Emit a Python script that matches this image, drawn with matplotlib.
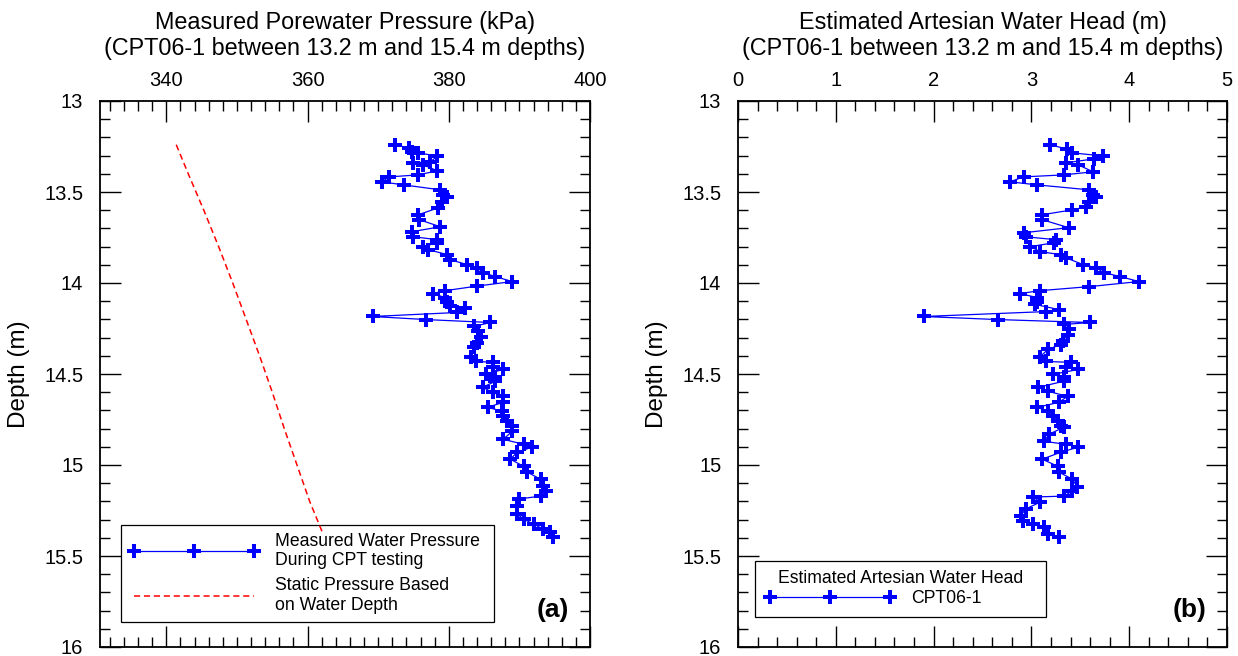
import numpy as np
import matplotlib
matplotlib.use("Agg")
import matplotlib.pyplot as plt
from matplotlib.ticker import MultipleLocator

plt.rcParams['font.family'] = ['Liberation Sans', 'DejaVu Sans']

# measured porewater pressure (kPa) vs depth (m), panel (a)
depth_a = [13.241, 13.258, 13.280, 13.285, 13.302, 13.334, 13.340, 13.351, 13.384, 13.406,
           13.417, 13.444, 13.461, 13.488, 13.515, 13.526, 13.554, 13.587, 13.625, 13.652,
           13.691, 13.718, 13.746, 13.762, 13.779, 13.800, 13.817, 13.844, 13.872, 13.899,
           13.916, 13.943, 13.965, 13.992, 14.017, 14.042, 14.058, 14.080, 14.107, 14.129,
           14.140, 14.162, 14.184, 14.201, 14.217, 14.239, 14.266, 14.294, 14.327, 14.354,
           14.404, 14.431, 14.436, 14.464, 14.475, 14.502, 14.519, 14.540, 14.573, 14.601,
           14.623, 14.656, 14.683, 14.705, 14.732, 14.760, 14.787, 14.815, 14.859, 14.886,
           14.902, 14.930, 14.968, 15.007, 15.039, 15.078, 15.116, 15.143, 15.171, 15.187,
           15.226, 15.270, 15.297, 15.325, 15.352, 15.368, 15.396]
pressure = [372.4, 374.4, 374.8, 375.6, 378.4, 377.4, 375.0, 376.4, 378.4, 375.6,
            371.6, 370.5, 373.6, 378.8, 379.2, 379.8, 379.1, 378.5, 375.7, 375.8,
            378.8, 374.8, 375.0, 378.4, 378.4, 376.3, 377.1, 379.8, 380.2, 382.6,
            384.0, 384.9, 386.6, 389.0, 384.0, 379.5, 377.7, 379.5, 379.8, 380.2,
            382.3, 381.2, 369.2, 376.8, 385.9, 383.5, 384.2, 384.5, 384.0, 383.5,
            383.1, 383.8, 386.3, 386.2, 387.7, 385.2, 386.6, 386.6, 384.8, 386.2,
            387.7, 387.7, 385.5, 387.6, 387.7, 388.3, 389.0, 389.0, 387.7, 390.6,
            391.8, 389.7, 388.7, 390.6, 391.1, 393.0, 393.4, 393.7, 393.0, 389.9,
            389.7, 389.7, 390.6, 392.0, 393.4, 394.4, 394.8]

# static pressure from water depth
depth_static = [13.24, 13.40, 13.50, 13.60, 13.80, 14.00, 14.20, 14.40, 14.50, 14.60,
                14.80, 15.00, 15.20, 15.38]
static = [341.4, 343.1, 344.2, 345.3, 347.4, 349.4, 351.3, 353.2, 354.1, 355.0,
          356.7, 358.5, 360.3, 362.2]

# estimated artesian head (m), panel (b)
depth_b = [13.241, 13.263, 13.285, 13.302, 13.318, 13.340, 13.351, 13.389, 13.406, 13.417,
           13.444, 13.461, 13.488, 13.515, 13.526, 13.554, 13.581, 13.598, 13.625, 13.652,
           13.696, 13.724, 13.746, 13.762, 13.779, 13.800, 13.828, 13.844, 13.861, 13.899,
           13.916, 13.943, 13.965, 13.992, 14.020, 14.042, 14.058, 14.080, 14.102, 14.118,
           14.146, 14.157, 14.184, 14.201, 14.217, 14.228, 14.255, 14.283, 14.321, 14.338,
           14.365, 14.404, 14.431, 14.436, 14.464, 14.475, 14.502, 14.519, 14.540, 14.573,
           14.595, 14.623, 14.656, 14.683, 14.705, 14.732, 14.760, 14.787, 14.793, 14.831,
           14.870, 14.886, 14.902, 14.930, 14.968, 15.007, 15.039, 15.078, 15.122, 15.143,
           15.171, 15.176, 15.204, 15.242, 15.281, 15.308, 15.325, 15.341, 15.379, 15.396]
head = [3.19, 3.36, 3.42, 3.73, 3.64, 3.35, 3.48, 3.63, 3.33, 2.92,
        2.78, 3.06, 3.59, 3.63, 3.66, 3.59, 3.56, 3.42, 3.11, 3.11,
        3.38, 2.92, 2.94, 3.25, 3.23, 2.99, 3.09, 3.30, 3.35, 3.53,
        3.66, 3.74, 3.91, 4.10, 3.59, 3.09, 2.88, 3.06, 3.06, 3.04,
        3.28, 3.15, 1.90, 2.66, 3.60, 3.33, 3.38, 3.37, 3.32, 3.30,
        3.17, 3.09, 3.15, 3.40, 3.35, 3.48, 3.22, 3.33, 3.33, 3.07,
        3.17, 3.37, 3.28, 3.06, 3.17, 3.22, 3.27, 3.30, 3.33, 3.18,
        3.13, 3.35, 3.48, 3.30, 3.11, 3.27, 3.28, 3.42, 3.47, 3.42,
        3.33, 3.02, 3.09, 2.94, 2.89, 2.91, 3.02, 3.13, 3.17, 3.28]

W, H = 1238, 656
fig = plt.figure(figsize=(W / 100, H / 100), dpi=100)
ax1 = fig.add_axes([100 / W, (H - 647) / H, 490 / W, 546 / H])
ax2 = fig.add_axes([738 / W, (H - 647) / H, 489 / W, 546 / H])

mk = dict(marker='P', markersize=10.5, markeredgewidth=0)

ax1.plot(pressure, depth_a, color='blue', lw=0.9, zorder=6, **mk,
         label='Measured Water Pressure\nDuring CPT testing')
ax1.plot(static, depth_static, color='red', lw=1.1, ls=(0, (4, 2.5)), zorder=6,
         label='Static Pressure Based\non Water Depth')
ax2.plot(head, depth_b, color='blue', lw=0.9, zorder=6, **mk, label='CPT06-1')

ax1.set_xlim(330.6, 400)
ax1.xaxis.set_major_locator(MultipleLocator(20))
ax1.xaxis.set_minor_locator(MultipleLocator(2))
ax2.set_xlim(0, 5)
ax2.xaxis.set_major_locator(MultipleLocator(1))
ax2.xaxis.set_minor_locator(MultipleLocator(0.2))

titles = ['Measured Porewater Pressure (kPa)', 'Estimated Artesian Water Head (m)']
subtitle = '(CPT06-1 between 13.2 m and 15.4 m depths)'
centres = [345 / W, 982.5 / W]
for ax, t, cx in zip([ax1, ax2], titles, centres):
    ax.set_ylim(16, 13)
    ax.yaxis.set_major_locator(MultipleLocator(0.5))
    ax.yaxis.set_minor_locator(MultipleLocator(0.1))
    ax.yaxis.set_major_formatter(plt.FuncFormatter(lambda v, p: f'{v:g}'))
    ax.xaxis.tick_top()
    ax.tick_params(which='both', direction='in', top=True, bottom=True, left=True, right=True,
                   labeltop=True, labelbottom=False, width=1.0)
    ax.tick_params(which='major', length=15, labelsize=14.5, pad=8)
    ax.tick_params(which='minor', length=7)
    ax.tick_params(axis='y', which='major', pad=12)
    for s in ax.spines.values():
        s.set_linewidth(1.3)
    ax.set_ylabel('Depth (m)', fontsize=17.5, labelpad=10)
    fig.text(cx, 1 - 22 / H, t, ha='center', va='center', fontsize=16.8)
    fig.text(cx, 1 - 48 / H, subtitle, ha='center', va='center', fontsize=16.8)

leg1 = ax1.legend(loc='lower left', bbox_to_anchor=(0.043, 0.046, 0.761, 0.178), mode='expand',
                  borderaxespad=0, fontsize=12.7, numpoints=3, handlelength=7.4,
                  fancybox=False, edgecolor='black', framealpha=1, borderpad=0.45,
                  labelspacing=0.45, handletextpad=0.9)
leg1.get_frame().set_linewidth(0.9)
leg1.set_zorder(3)

leg2 = ax2.legend(loc='lower left', bbox_to_anchor=(0.035, 0.055, 0.595, 0.105), mode='expand',
                  borderaxespad=0, fontsize=12.7, numpoints=3, handlelength=7.4,
                  fancybox=False, edgecolor='black', framealpha=1,
                  title='Estimated Artesian Water Head', title_fontsize=12.7, borderpad=0.55,
                  handletextpad=0.9)
leg2.get_frame().set_linewidth(0.9)
leg2.set_zorder(3)
# tighter gap between legend title and its entry
leg2._legend_box.sep = 2

ax1.text(0.958, 0.045, '(a)', transform=ax1.transAxes, ha='right', va='bottom',
         fontsize=19, fontweight='bold', zorder=7)
ax2.text(0.958, 0.045, '(b)', transform=ax2.transAxes, ha='right', va='bottom',
         fontsize=19, fontweight='bold', zorder=7)

fig.savefig('out.png', dpi=100)
